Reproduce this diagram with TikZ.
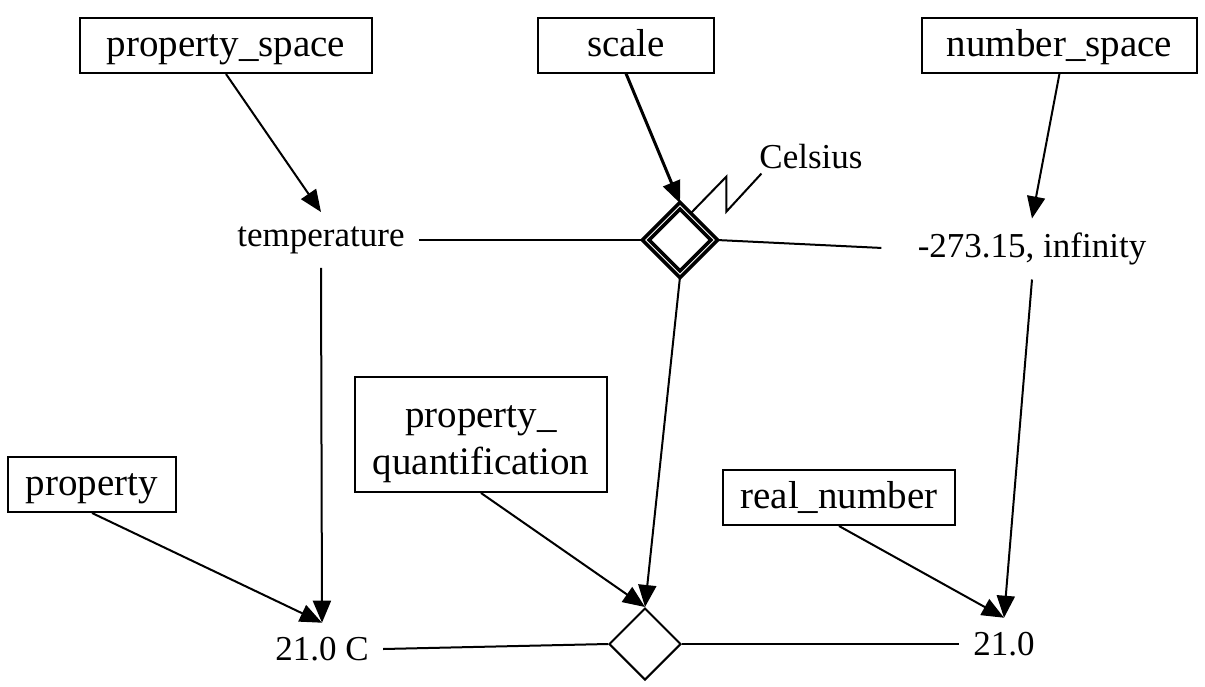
\documentclass[tikz,border=0pt]{standalone}
\usepackage{fontspec}
\setmainfont{Liberation Serif}
\usetikzlibrary{arrows.meta, shapes.geometric}

\begin{document}
\begin{tikzpicture}[x=0.5pt, y=-0.5pt,
      box/.style={draw, line width=1pt, font=\fontsize{19.5}{23.5}\selectfont, inner sep=0pt, minimum height=27.5pt, text height=15pt, text depth=4pt},
      val/.style={font=\fontsize{17.5}{21}\selectfont, inner sep=7pt},
      link/.style={line width=1pt},
      arr/.style={line width=1pt, -{Triangle[length=11pt, width=9pt]}}]
      \useasboundingbox (0,0) rectangle (1205,686);
      % Classes
      \node[box, minimum width=146pt] (pspace) at (226,45.5) {property\_space};
      \node[box, minimum width=88pt] (scale) at (626,45) {scale};
      \node[box, minimum width=137.5pt] (nspace) at (1059.5,45) {number\_space};
      \node[box, minimum width=84pt] (prop) at (92,484.5) {property};
      \node[box, minimum width=126pt, minimum height=57.5pt, text height={}, text depth={}, align=center] (pquant) at (481,434.5) {\raisebox{0pt}[\dimexpr\height+10pt\relax]{property\_}\\quantification};
      \node[box, minimum width=116pt] (realnum) at (839,497.5) {real\_number};
      % Instances
      \node[val] (temp) at (321,240) {temperature};
      \node[val] (range) at (1032,249) {-273.15, infinity};
      \node[val] (tempval) at (322,649) {21.0 C};
      \node[val] (num) at (1004,644) {21.0};
      \node[val] (celsius) at (811,157) {Celsius};
      % Relations
      \node[diamond, draw, line width=1.8pt, double, double distance=0.5pt, minimum size=35pt, inner sep=0pt] (scaling) at (680,240) {};
      \node[diamond, draw, line width=1pt, minimum size=36pt, inner sep=0pt] (quant) at (645,644) {};
      \draw[link] (temp.east) -- (scaling.west);
      \draw[link, shorten >=11pt] (scaling.east) -- (range.west);
      \draw[link] (tempval.east) -- (quant.west);
      \draw[link] (quant.east) -- (num.west);
      \draw[link] ([xshift=-4pt, yshift=4pt]scaling.north east) -- ++(36,-37) -- ++(0,35) -- ++(35,-38);
      % Classification
      \draw[arr] (pspace.south) -- (temp.north);
      \draw[arr, line width=1.5pt] (scale.south) -- (scaling.north);
      \draw[arr] (nspace.south) -- (range.north);
      \draw[arr] (temp.south) -- (tempval.north);
      \draw[arr] (prop.south) -- (tempval.north);
      \draw[arr] (scaling.south) -- (quant.north);
      \draw[arr] (pquant.south) -- (quant.north);
      \draw[arr] (range.south) -- (num.north);
      \draw[arr] (realnum.south) -- (num.north);
\end{tikzpicture}
\end{document}
